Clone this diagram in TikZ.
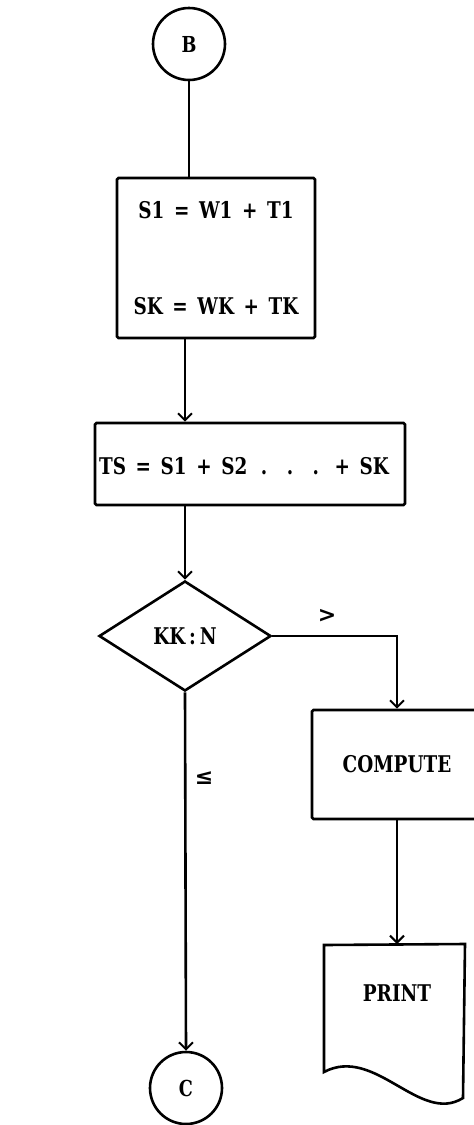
\documentclass[tikz,border=0pt]{standalone}
\usepackage{fontspec}
\newfontfamily\tw[FakeStretch=0.8,WordSpace=1.5]{DejaVu Serif}
\newfontfamily\lb{DejaVu Sans}
\usetikzlibrary{arrows.meta,shapes.geometric}
\begin{document}
\begin{tikzpicture}[x=1pt,y=-1pt,line width=2.6pt,
  txt/.style={font=\tw\bfseries\fontsize{23}{28}\selectfont},
  box/.style={draw,rectangle,inner sep=0pt,rounded corners=1.5pt},
  conn/.style={draw,circle,inner sep=0pt,minimum size=72pt,font=\tw\bfseries\fontsize{22}{26}\selectfont},
  arr/.style={-{Straight Barb[length=7pt,width=14pt,line width=2pt]}},
  lbl/.style={font=\lb\bfseries\fontsize{22}{26}\selectfont}]
\useasboundingbox (0,0) rectangle (474,1125);
\clip (0,0) rectangle (474,1125);
% nodes
\node[conn] (B) at (189,44) {B};
\node[box,minimum width=198pt,minimum height=160pt,txt,align=center] (box1) at (216,258)
  {S1 = W1 + T1\\[68pt]SK = WK + TK};
\node[box,minimum width=310pt,minimum height=82pt] (box2) at (250,464) {};
\node[txt] (box2t) at (244,466) {TS = S1 + S2 \,.\, \,.\, \,.\, + SK};
\node[draw,diamond,inner sep=0pt,minimum width=172pt,minimum height=110pt,txt] (dia) at (185,636) {KK\,:\,N};
\node[box,minimum width=170pt,minimum height=109pt,txt] (comp) at (397,764.5) {COMPUTE};
\node[conn] (C) at (186,1088) {C};
% print document
\coordinate (ptop) at (396,944);
\draw (324,1072) -- (324,945) -- (465,944) -- (463,1098)
  .. controls (420,1125) and (375,1045) .. cycle;
\node[txt] (prt) at (397,993) {PRINT};
% labels
\node[lbl] (gt) at (327,616) {>};
\node[lbl] (le) at (204,778) {≤};
% connectors
\draw (B.south) -- (B.south |- box1.north);
\draw[arr] (box1.south -| dia.north) -- (box2.north -| dia.north);
\draw[arr] (box2.south -| dia.north) -- (dia.north);
\draw[arr] (dia.east) -| (comp.north);
\draw[arr] (comp.south) -- (comp.south |- ptop);
\draw[arr] (dia.south) -- (C.north);
\end{tikzpicture}
\end{document}
